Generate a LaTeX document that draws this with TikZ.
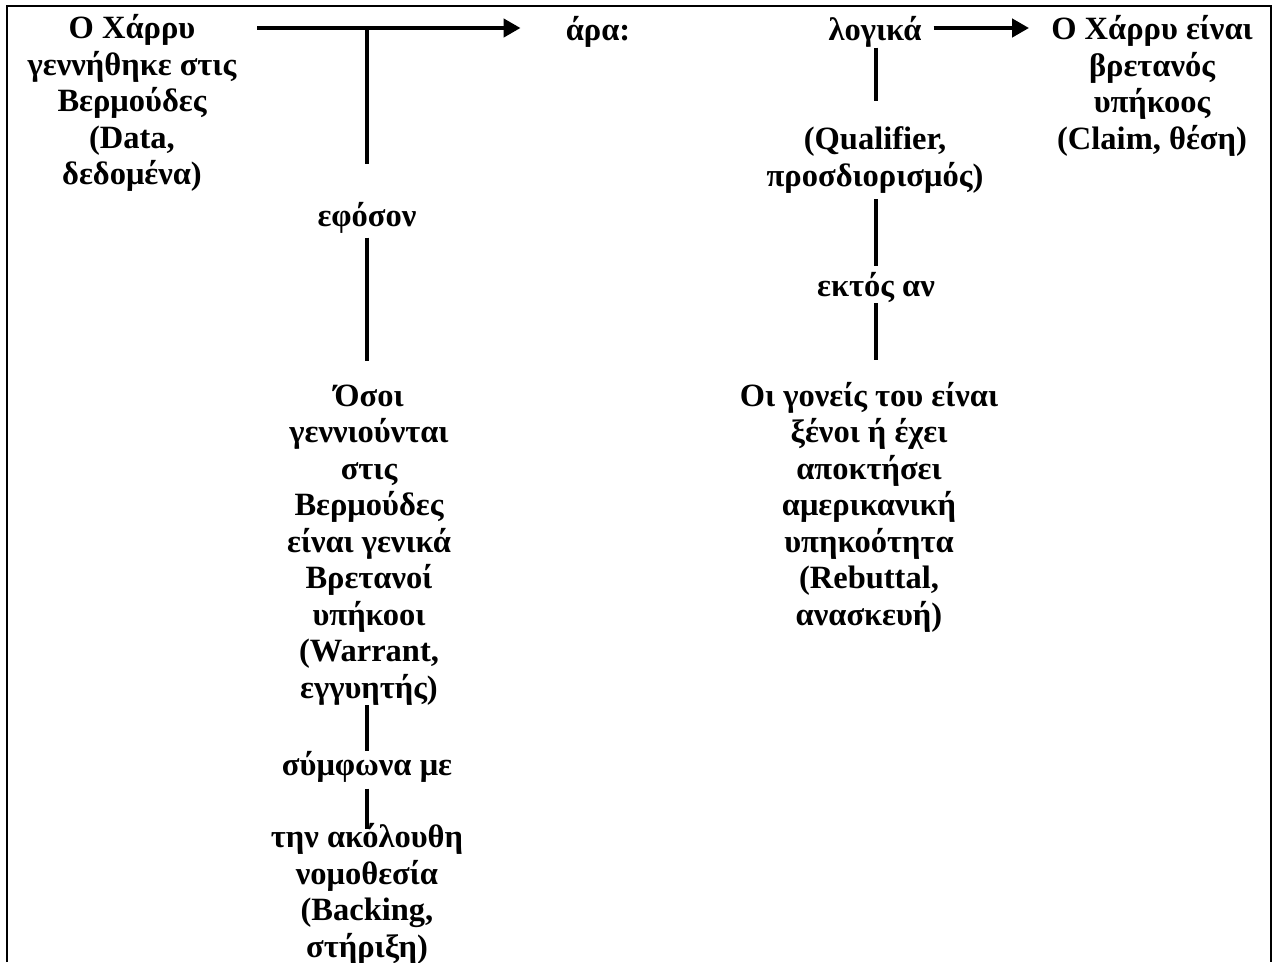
\documentclass[tikz,border=0pt]{standalone}
\usepackage{fontspec}
\setmainfont{Liberation Serif}
\usetikzlibrary{arrows.meta}

\begin{document}
\begin{tikzpicture}[
	x=1pt,
	y=-1pt,
	part/.style={
		align=center,
		inner sep=0pt,
		font=\bfseries\fontsize{32.5}{36.5}\selectfont,
	},
	link/.style={
		line width=4.6pt,
	},
	infer/.style={
		link,
		-{Triangle[length=17pt,width=18pt]},
	},
]
% page and frame
\useasboundingbox (0,0) rectangle (1277,962);
\draw[line width=2.4pt] (7,962) -- (7,6) -- (1271,6) -- (1271,962);

\node (data) [part] at (132,103) {Ο Χάρρυ\\γεννήθηκε στις\\Βερμούδες\\(Data,\\δεδομένα)};
\node (ara) [part] at (598,32) {άρα:};
\node (logika) [part] at (875,32) {λογικά};
\node (claim) [part] at (1152,86) {Ο Χάρρυ είναι\\βρετανός\\υπήκοος\\(Claim, θέση)};
\node (efoson) [part] at (367,218) {εφόσον};
\node (warrant) [part] at (369,545) {Όσοι\\γεννιούνται\\στις\\Βερμούδες\\είναι γενικά\\Βρετανοί\\υπήκοοι\\(Warrant,\\εγγυητής)};
\node (symfona) [part] at (367,767) {σύμφωνα με};
\node (backing) [part] at (367,894) {την ακόλουθη\\νομοθεσία\\(Backing,\\στήριξη)};
\node (qualifier) [part] at (875,160) {(Qualifier,\\προσδιορισμός)};
\node (ektos) [part] at (876,288) {εκτός αν};
\node (rebuttal) [part] at (869,507) {Οι γονείς του είναι\\ξένοι ή έχει\\αποκτήσει\\αμερικανική\\υπηκοότητα\\(Rebuttal,\\ανασκευή)};

\coordinate (fork) at (367,28);
\coordinate (turn) at (876,28);

\draw[infer, shorten <=21pt, shorten >=45pt] (data.east |- fork) -- (ara.west |- fork);
\draw[link, shorten >=38pt] (fork) -- (efoson.north -| fork);
\draw[link, shorten <=4pt, shorten >=24pt] (efoson.south -| fork) -- (warrant.north -| fork);
\draw[link] (warrant.south -| fork) -- (symfona.north -| fork);
\draw[link, shorten <=6pt, shorten >=-5pt] (symfona.south -| fork) -- (backing.north -| fork);

\draw[infer, shorten <=12pt, shorten >=22pt] (logika.east |- fork) -- (claim.west |- fork);
\draw[link, shorten >=26pt] (logika.south -| turn) -- (qualifier.north -| turn);
\draw[link, shorten <=6pt, shorten >=7pt] (qualifier.south -| turn) -- (ektos.north -| turn);
\draw[link, shorten >=22pt] (ektos.south -| turn) -- (rebuttal.north -| turn);
\end{tikzpicture}
\end{document}
